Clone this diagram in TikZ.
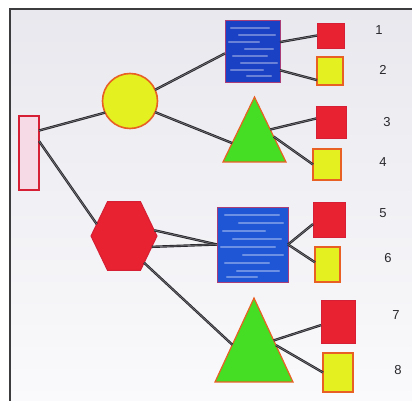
\documentclass[tikz,border=0pt]{standalone}
\usepackage{fontspec}
\setmainfont{Liberation Sans}
\usetikzlibrary{shapes.geometric}

\definecolor{paperA}{RGB}{232,232,238}
\definecolor{paperB}{RGB}{250,250,252}
\definecolor{frame}{RGB}{60,60,62}
\definecolor{ink}{RGB}{40,40,44}
\definecolor{inklight}{RGB}{120,120,126}
\definecolor{redfill}{RGB}{232,34,48}
\definecolor{redline}{RGB}{214,30,52}
\definecolor{pinkfill}{RGB}{246,218,230}
\definecolor{yelfill}{RGB}{228,240,32}
\definecolor{orangeline}{RGB}{232,96,36}
\definecolor{bluefill}{RGB}{26,64,196}
\definecolor{bluefillB}{RGB}{30,86,214}
\definecolor{blueline}{RGB}{170,60,120}
\definecolor{greenfill}{RGB}{70,222,36}

\tikzset{
  shp/.style={inner sep=0pt, outer sep=0pt},
  redsq/.style={shp, rectangle, fill=redfill, draw=redline, line width=0.8pt},
  yelsq/.style={shp, rectangle, fill=yelfill, draw=orangeline, line width=1.2pt},
  bluesq/.style={shp, rectangle, draw=blueline, line width=0.6pt},
  tri/.style={shp, regular polygon, regular polygon sides=3, fill=greenfill,
              draw=orangeline, line width=1.2pt, transform shape},
  pencil/.style={draw=ink, line width=0.9pt, double=inklight, double distance=0.6pt},
  streak/.style={draw=white, opacity=0.35, line width=2.4pt, line cap=round},
  num/.style={text=ink, font=\fontsize{13}{13}\selectfont, inner sep=0pt}
}

\begin{document}
\begin{tikzpicture}[x=1pt, y=-1pt]
  \useasboundingbox (0,0) rectangle (412,401);
  % sheet of paper
  \fill[white] (0,0) rectangle (412,401);
  \shade[top color=paperA, bottom color=paperB] (9.5,9) rectangle (412,401);
  \draw[frame, line width=2pt] (9.5,401) -- (9.5,9) -- (412,9);

  % root
  \node[shp, rectangle, fill=pinkfill, draw=redline, line width=1.5pt,
        minimum width=20, minimum height=74] (root) at (29,153) {};

  % second level
  \node[shp, circle, minimum size=55, fill=yelfill, draw=orangeline,
        line width=1.6pt] (c) at (130,101) {};
  \node[shp, regular polygon, regular polygon sides=6, minimum size=66,
        yscale=1.2, transform shape, fill=redfill, draw=redline,
        line width=1pt] (h) at (124,236) {};

  % third level
  \node[bluesq, fill=bluefill, minimum width=55, minimum height=62] (b1) at (252.5,51) {};
  \node[tri, minimum size=72.7, yscale=1.19] (t1) at (254.5,140.3) {};
  \node[bluesq, fill=bluefillB, minimum width=71, minimum height=75] (b2) at (252.5,244.5) {};
  \node[tri, minimum size=90, yscale=1.244] (t2) at (254,354) {};

  % scribble highlights in the blue squares
  \foreach \yy/\aa/\bb in {8/6/44, 15/14/50, 22/4/34, 29/20/48, 36/8/42, 43/16/52, 50/6/38, 56/22/46}
    \draw[streak] ([shift={(\aa,\yy)}]b1.north west) -- ([shift={(\bb,\yy)}]b1.north west);
  \foreach \yy/\aa/\bb in {8/8/62, 16/22/66, 24/6/48, 32/16/64, 40/4/58, 48/26/66, 56/8/52, 64/20/62, 70/10/40}
    \draw[streak] ([shift={(\aa,\yy)}]b2.north west) -- ([shift={(\bb,\yy)}]b2.north west);

  % leaves
  \node[redsq, minimum width=27, minimum height=25] (s1) at (330.5,35.5) {};
  \node[yelsq, minimum width=26, minimum height=28] (s2) at (330,71) {};
  \node[redsq, minimum width=30, minimum height=32] (s3) at (331,122) {};
  \node[yelsq, minimum width=28, minimum height=31] (s4) at (327,164.5) {};
  \node[redsq, minimum width=32, minimum height=35] (s5) at (329,219.5) {};
  \node[yelsq, minimum width=25, minimum height=35] (s6) at (327.5,264.5) {};
  \node[redsq, minimum width=34, minimum height=43] (s7) at (338,321.5) {};
  \node[yelsq, minimum width=30, minimum height=39] (s8) at (338,372.5) {};

  % leaf numbers
  \node[num] (n1) at (379,30) {1};
  \node[num] (n2) at (383,70) {2};
  \node[num] (n3) at (387,122) {3};
  \node[num] (n4) at (383,162) {4};
  \node[num] (n5) at (383,213) {5};
  \node[num] (n6) at (388,258) {6};
  \node[num] (n7) at (396,315) {7};
  \node[num] (n8) at (398,370) {8};

  % connectors
  \draw[pencil] (root.66) -- (c.205);
  \draw[pencil] (root.50) -- (h.160);
  \draw[pencil] (c.24) -- (b1.185);
  \draw[pencil] (c.-24) -- (t1.186);
  \draw[pencil] (b1.18) -- (s1.west);
  \draw[pencil] (b1.-35) -- (s2.215);
  \draw[pencil] (t1.30) -- (s3.167);
  \draw[pencil] (t1.9) -- (s4.west);
  \draw[pencil] (h.9) -- (b2.west);
  \draw[pencil] (h.-18) -- (b2.west);
  \draw[pencil] (h.-48) -- (t2.161);
  \draw[pencil] (b2.east) -- (s5.196);
  \draw[pencil] (b2.east) -- (s6.170);
  \draw[pencil] (t2.29) -- (s7.192);
  \draw[pencil] (t2.18) -- (s8.west);
\end{tikzpicture}
\end{document}
